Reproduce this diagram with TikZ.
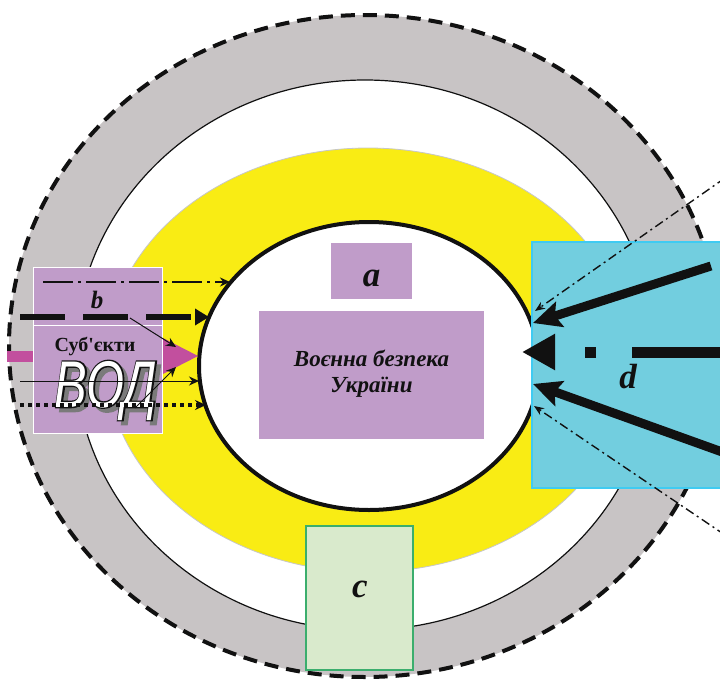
\documentclass[tikz,border=0pt]{standalone}
\usepackage{fontspec}
\setmainfont{Liberation Serif}
\newfontface\vodfill[FakeStretch=0.74]{Liberation Sans Italic}
\newfontface\vodline[FakeStretch=0.74,FakeBold=4]{Liberation Sans Italic}
\newfontface\subjfont[Ligatures=TeXOff]{Liberation Serif Bold}
\usetikzlibrary{arrows.meta,shapes.geometric}
\definecolor{band}{HTML}{C8C4C5}
\definecolor{yel}{HTML}{F9EC14}
\definecolor{lav}{HTML}{C09CC9}
\definecolor{cyanbox}{HTML}{72CEDF}
\definecolor{cyanline}{HTML}{3FCBF2}
\definecolor{greenbox}{HTML}{D9EACC}
\definecolor{greenline}{HTML}{3BAE6D}
\definecolor{pinkc}{HTML}{C24F9E}
\definecolor{ink}{HTML}{111111}
\definecolor{shadowc}{HTML}{7A7A7A}
\tikzset{
  box/.style={rectangle, inner sep=0pt, outer sep=0pt},
  lavbox/.style={box, fill=lav, draw=white, line width=1pt},
  letter/.style={font=\bfseries\itshape\fontsize{35}{40}\selectfont, text=ink, inner sep=0pt, anchor=base},
  thindashdot/.style={ink, line width=1.4pt, dash pattern=on 9pt off 4pt on 2pt off 4pt, -{Stealth[length=10pt,width=8pt]}},
  thickarrow/.style={ink, line width=9pt, -{Stealth[length=28pt,width=26pt,inset=5pt]}},
}
\newcommand{\vodword}{%
  {\color{shadowc}\rlap{\hspace{4pt}\raisebox{-4pt}{\vodline ВОД}}}%
  {\color{ink}\rlap{\vodline ВОД}}%
  {\color{white}\vodfill ВОД}}
\begin{document}
\begin{tikzpicture}[x=1pt,y=-1pt]
\useasboundingbox (0,0) rectangle (720,680);
\clip (0,0) rectangle (720,680);

% rings
\fill[band] (365,346) ellipse [x radius=356pt, y radius=331pt];
\filldraw[fill=white, draw=ink, line width=1.2pt] (365,355) ellipse [x radius=290pt, y radius=275pt];
\filldraw[fill=yel, draw=black!22, line width=0.8pt] (368,360) ellipse [x radius=262pt, y radius=212pt];
\draw[ink, line width=4pt, dash pattern=on 14pt off 8pt] (365,346) ellipse [x radius=356pt, y radius=331pt];
\node[ellipse, draw=ink, fill=white, line width=4pt, minimum width=340pt, minimum height=288pt, inner sep=0pt] (core) at (369,366) {};

% central boxes
\node[box, fill=lav, minimum width=81pt, minimum height=56pt] (abox) at (371.5,271) {};
\node[letter] (alab) at (371.5,286) {a};
\node[box, fill=lav, minimum width=225pt, minimum height=128pt] (main) at (371.5,375) {};
\node[font=\bfseries\itshape\fontsize{23}{26}\selectfont, text=ink, align=center, inner sep=0pt] (maintxt) at (371.5,374) {Воєнна безпека\\України};

% pink arrow (under left boxes)
\coordinate (pk0) at (7,356);
\coordinate (pk1) at (199,356);
\draw[pinkc, line width=11pt, -{Triangle[length=36pt,width=33pt]}] (pk0) -- (pk1);

% left boxes
\node[lavbox, minimum width=129pt, minimum height=58pt] (bbox) at (97.5,296) {};
\node[lavbox, minimum width=129pt, minimum height=108pt] (sbox) at (97.5,379) {};
\node[font=\bfseries\itshape\fontsize{25}{28}\selectfont, text=ink, inner sep=0pt, anchor=base] (blab) at (97,308) {b};
\node[font=\subjfont\fontsize{20}{22}\selectfont, text=ink, inner sep=0pt, anchor=base] (subj) at (95,351) {Суб'єкти};
\node[font=\fontsize{66}{70}\selectfont, inner sep=0pt, anchor=base] (vod) at (106,407) {\vodword};

% left arrows
\coordinate (l1s) at (43,282);   \coordinate (l1e) at (230,282);
\coordinate (l2s) at (20,317);   \coordinate (l2e) at (209,317);
\coordinate (l3s) at (20,381);   \coordinate (l3e) at (199,381);
\coordinate (l4s) at (20,405);   \coordinate (l4e) at (206,405);
\coordinate (d1s) at (130,318);  \coordinate (d1e) at (176,347);
\coordinate (d2s) at (135,408);  \coordinate (d2e) at (176,367);
\draw[ink, line width=1.4pt, dash pattern=on 30pt off 5pt on 3pt off 5pt, -{Stealth[length=10pt,width=9pt]}] (l1s) -- (l1e);
\draw[ink, line width=6pt, dash pattern=on 45pt off 18pt, -{Triangle[length=14pt,width=16pt]}] (l2s) -- (l2e);
\draw[ink, line width=1pt, -{Stealth[length=10pt,width=9pt]}] (l3s) -- (l3e);
\draw[ink, line width=4pt, dash pattern=on 4pt off 4pt, -{Stealth[length=11pt,width=10pt]}] (l4s) -- (l4e);
\draw[ink, line width=1pt, -{Stealth[length=10pt,width=9pt]}] (d1s) -- (d1e);
\draw[ink, line width=1pt, -{Stealth[length=10pt,width=9pt]}] (d2s) -- (d2e);

% right box
\node[box, fill=cyanbox, draw=cyanline, line width=1.5pt, minimum width=192pt, minimum height=246pt] (dbox) at (628,365) {};
\node[letter] (dlab) at (628,388) {d};

% right arrows
\coordinate (r1s) at (725,178);  \coordinate (r1e) at (535,311);
\coordinate (r2s) at (711,266);  \coordinate (r2e) at (533,323);
\coordinate (r3s) at (722,352);  \coordinate (r3e) at (522,352);
\coordinate (r4s) at (725,453);  \coordinate (r4e) at (533,384);
\coordinate (r5s) at (725,535);  \coordinate (r5e) at (534,406);
\draw[thindashdot] (r1s) -- (r1e);
\draw[thickarrow] (r2s) -- (r2e);
\draw[ink, line width=11pt, dash pattern=on 90pt off 36pt on 11pt off 40pt, -{Triangle[length=33pt,width=34pt]}] (r3s) -- (r3e);
\draw[thickarrow] (r4s) -- (r4e);
\draw[thindashdot] (r5s) -- (r5e);

% bottom box
\node[box, fill=greenbox, draw=greenline, line width=1.5pt, minimum width=107pt, minimum height=144pt] (cbox) at (359.5,598) {};
\node[letter] (clab) at (360,597) {c};
\end{tikzpicture}
\end{document}
